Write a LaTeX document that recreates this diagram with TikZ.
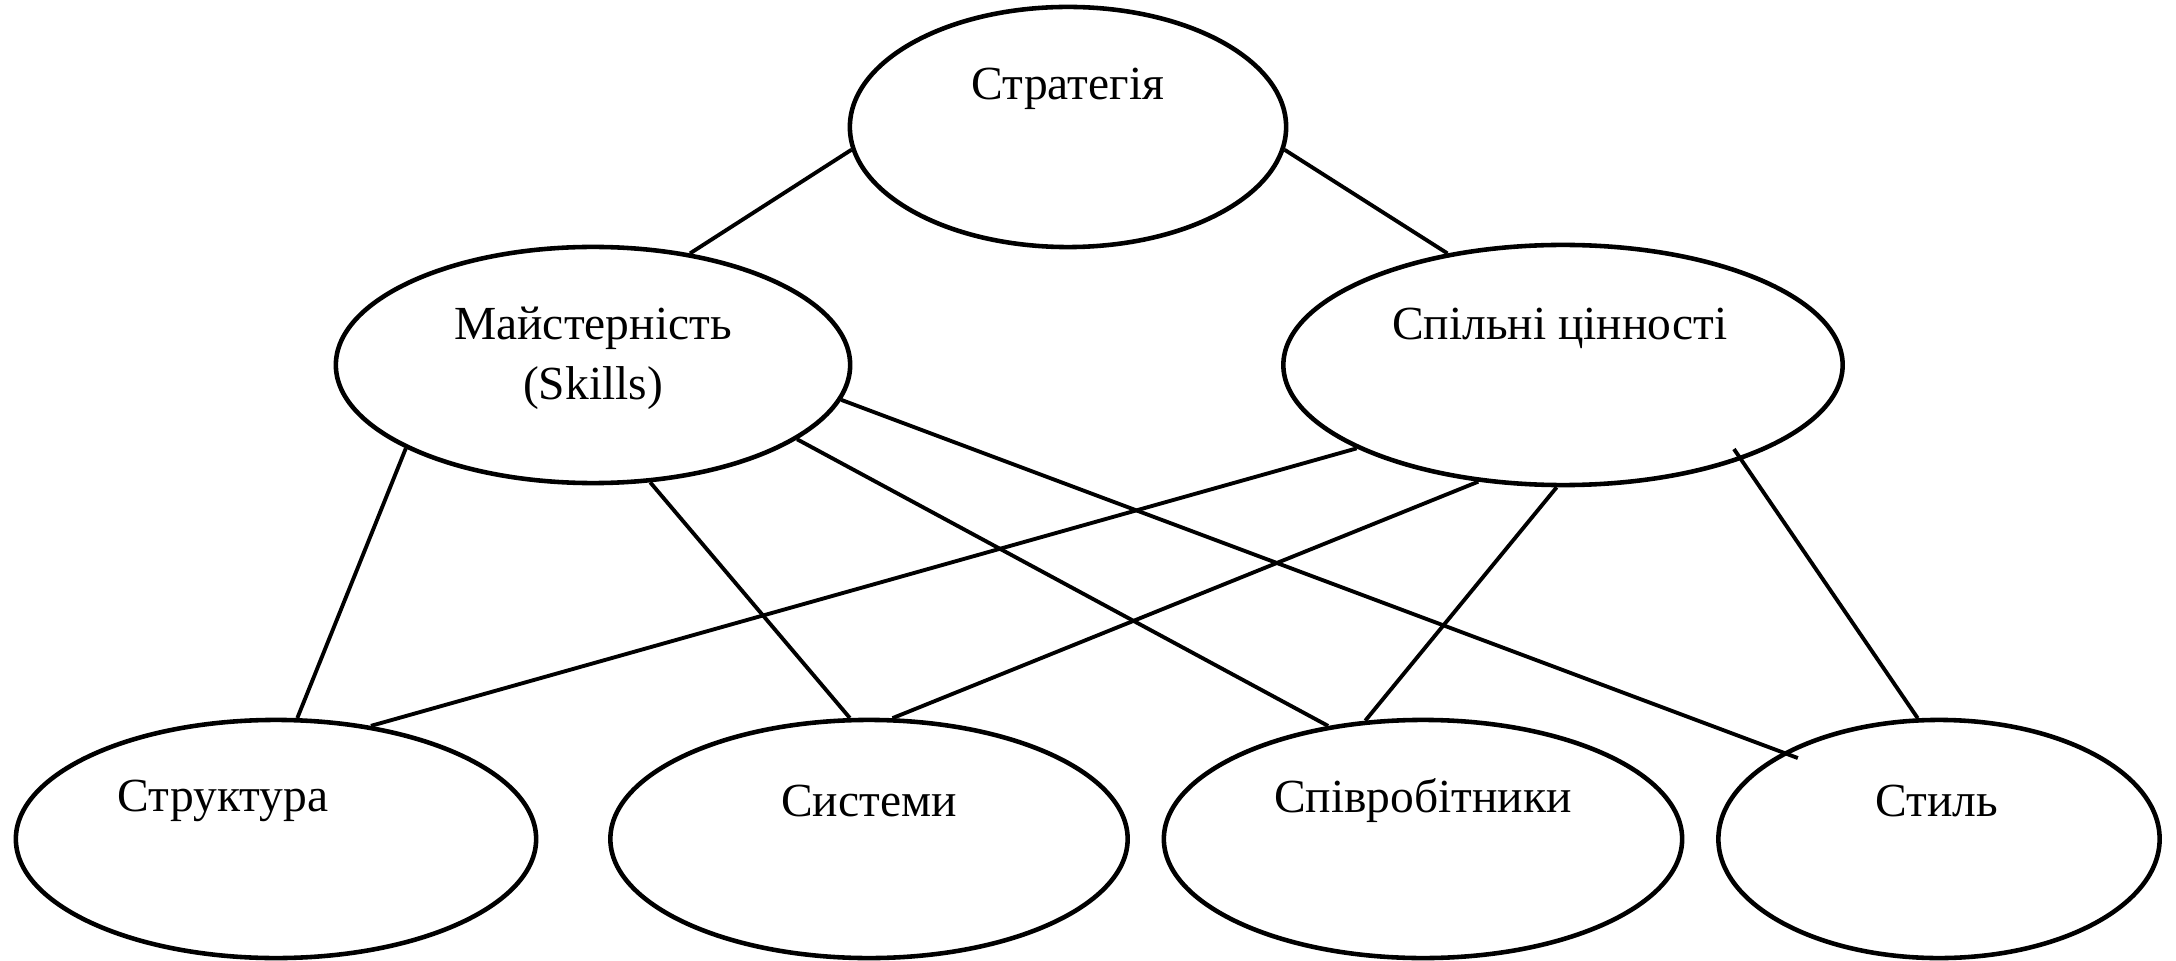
\documentclass[tikz,border=0pt]{standalone}
\usepackage{fontspec}
\setmainfont{Liberation Serif}
\usetikzlibrary{shapes.geometric, calc}
\tikzset{
  blob/.style={ellipse, draw=black, line width=1.3pt,
               inner sep=0pt, fill=white},
  lbl/.style={font=\fontsize{13.5}{17}\selectfont,
              inner sep=0pt, align=center},
  link/.style={draw=black, line width=1.1pt},
}
\begin{document}
\begin{tikzpicture}[x=0.01cm, y=-0.01cm]
    \useasboundingbox (0,0) rectangle (2176,961);
    %% ellipses
    \foreach \n/\x/\y/\w/\h in {strat/1068/127/4.36/2.40,
        mai/593/365/5.14/2.36, spil/1563/365/5.59/2.40,
        str/276/839/5.20/2.38, sys/869/839/5.17/2.38,
        spiv/1423/839/5.18/2.38, styl/1939/839/4.41/2.38}{
      \node[blob, minimum width=\w cm, minimum height=\h cm] (\n) at (\x,\y) {};
    }
    %% texts
    \node[lbl] (stratT) at ($(strat)+(0,-38)$) {Стратегія};
    \node[lbl] (maiT) at ($(mai)+(0,-7)$) {Майстерність\\(Skills)};
    \node[lbl] (spilT) at ($(spil)+(-3,-37)$) {Спільні цінності};
    \node[lbl] (strT) at ($(str)+(-53,-38)$) {Структура};
    \node[lbl] (sysT) at ($(sys)+(0,-38)$) {Системи};
    \node[lbl] (spivT) at ($(spiv)+(0,-38)$) {Співробітники};
    \node[lbl] (stylT) at ($(styl)+(-2,-38)$) {Стиль};
    %% top level
    \draw[link] (strat.186) -- (mai.49);
    \draw[link] (strat.-6) -- (spil.136);
    %% from skills
    \draw[link] (mai.-156) -- (str.80);
    \draw[link] (mai.-64) -- (sys.99);
    \draw[link] (mai.-20) -- (spiv.130);
    \draw[link, shorten >=-0.16cm] (mai.-8) -- (styl.151);
    %% from shared values
    \draw[link] (spil.-158) -- (str.50);
    \draw[link] (spil.-126) -- (sys.79);
    \draw[link] (spil.-93) -- (spiv.116);
    \draw[link, shorten <=-0.13cm] (spil.-28) -- (styl.100);
\end{tikzpicture}
\end{document}
